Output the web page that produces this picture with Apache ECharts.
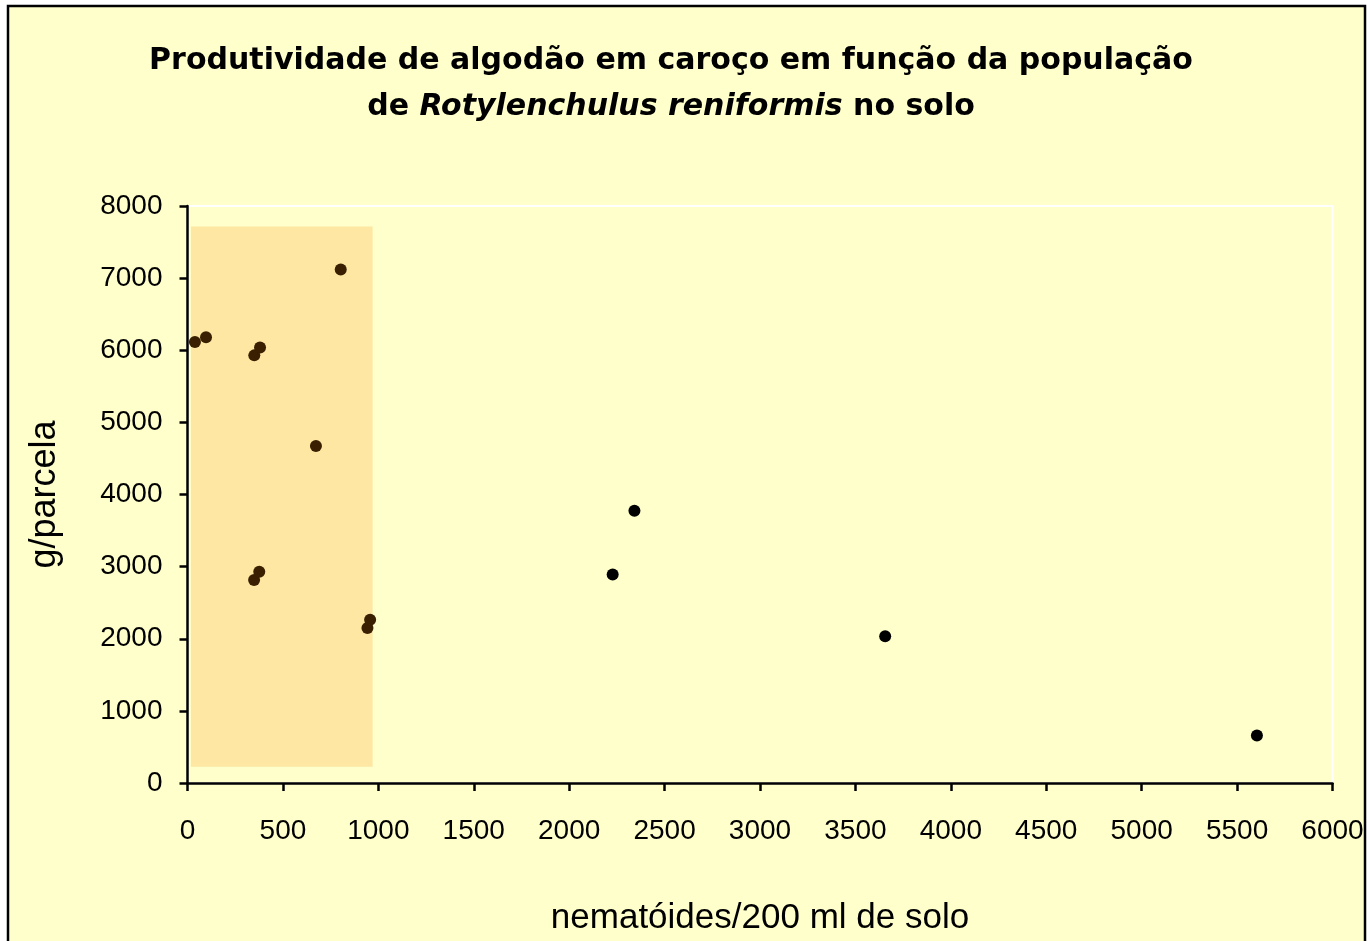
<!DOCTYPE html>
<html>
<head>
<meta charset="utf-8">
<script src="https://cdn.jsdelivr.net/npm/echarts@6/dist/echarts.min.js"></script>
<style>
  html, body { margin: 0; padding: 0; background: #fff; }
  #chart { width: 1367px; height: 941px; }
</style>
</head>
<body>
<div id="chart"></div>
<script>
// nematodes per 200 ml of soil vs seed cotton yield (g/plot)
var nematodes = [39, 97, 350, 380, 803, 673, 349, 376, 943, 957, 2228, 2342, 3656, 5604];
var yieldG = [6113, 6181, 5929, 6039, 7120, 4674, 2813, 2928, 2149, 2264, 2891, 3776, 2034, 660];

// highlighted region (data coords)
var shadeX = [18, 970];
var shadeY = [224, 7715];

var xTicks = { min: 0, max: 6000, step: 500 };
var yTicks = { min: 0, max: 8000, step: 1000 };

var points = [];
for (var i = 0; i < nematodes.length; i++) {
  points.push([nematodes[i], yieldG[i]]);
}

var chart = echarts.init(document.getElementById('chart'));
var font = 'Liberation Sans, Arial, sans-serif';

var option = {
  backgroundColor: '#fff',
  animation: false,
  graphic: [
    {
      type: 'rect',
      z: -10,
      silent: true,
      shape: { x: 8, y: 6, width: 1357, height: 1000 },
      style: { fill: '#FFFFCC', stroke: '#000', lineWidth: 2.5 }
    }
  ],
  title: {
    left: 666,
    top: 33,
    textAlign: 'center',
    text: '{b|Produtividade de algodão em caroço em função da população}\n{b|de }{i|Rotylenchulus reniformis}{b| no solo}',
    textStyle: {
      rich: {
        b: { fontFamily: 'DejaVu Sans', fontWeight: 'bold', fontSize: 30, color: '#000', lineHeight: 46 },
        i: { fontFamily: 'DejaVu Sans', fontWeight: 'bold', fontStyle: 'italic', fontSize: 30, color: '#000', lineHeight: 46 }
      }
    }
  },
  grid: {
    left: 187.5,
    right: 34.5,
    top: 206,
    bottom: 153,
    show: true,
    borderColor: '#fff',
    borderWidth: 2,
    backgroundColor: 'transparent'
  },
  xAxis: {
    type: 'value',
    min: xTicks.min,
    max: xTicks.max,
    interval: xTicks.step,
    name: 'nematóides/200 ml de solo',
    nameLocation: 'middle',
    nameGap: 118,
    nameTextStyle: { fontFamily: font, fontSize: 35, color: '#000' },
    axisLine: { show: true, lineStyle: { color: '#000', width: 2.5 } },
    axisTick: { show: true, length: 8, lineStyle: { color: '#000', width: 2.5 } },
    axisLabel: {
      fontFamily: font, fontSize: 28, color: '#000', margin: 34,
      formatter: function (v) { return String(v); }
    },
    splitLine: { show: false }
  },
  yAxis: {
    type: 'value',
    min: yTicks.min,
    max: yTicks.max,
    interval: yTicks.step,
    name: 'g/parcela',
    nameLocation: 'middle',
    nameGap: 124,
    nameTextStyle: { fontFamily: font, fontSize: 36, color: '#000' },
    axisLine: { show: true, lineStyle: { color: '#000', width: 2.5 } },
    axisTick: { show: true, length: 8, lineStyle: { color: '#000', width: 2.5 } },
    axisLabel: {
      fontFamily: font, fontSize: 28, color: '#000', margin: 25,
      formatter: function (v) { return String(v); }
    },
    splitLine: { show: false }
  },
  series: [
    {
      type: 'scatter',
      z: 1,
      data: [],
      markArea: {
        silent: true,
        itemStyle: { color: '#FDE7A2' },
        data: [[
          { coord: [shadeX[0], shadeY[1]] },
          { coord: [shadeX[1], shadeY[0]] }
        ]]
      }
    },
    {
      type: 'scatter',
      z: 3,
      symbol: 'circle',
      symbolSize: 12,
      itemStyle: {
        opacity: 1,
        color: function (p) {
          var x = p.value[0];
          return (x >= shadeX[0] && x <= shadeX[1]) ? '#3a2000' : '#000';
        }
      },
      data: points
    }
  ]
};

chart.setOption(option);
</script>
</body>
</html>
